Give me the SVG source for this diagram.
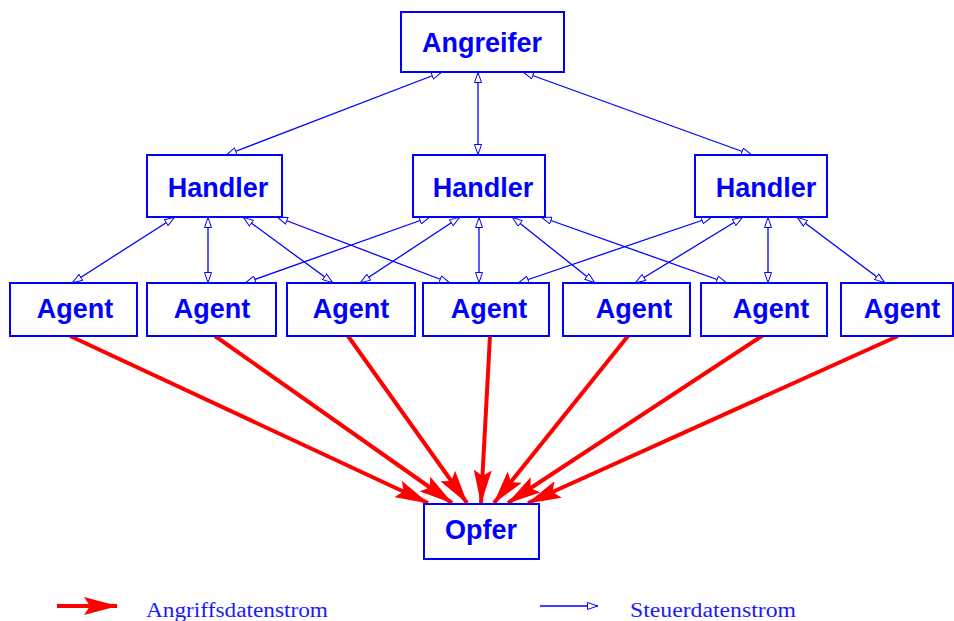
<svg xmlns="http://www.w3.org/2000/svg" width="954" height="621" viewBox="0 0 954 621">
  <style>
    .box { fill: #ffffff; stroke: #0000ff; stroke-width: 2; }
    .lbl { font-family: "Liberation Sans", Arial, sans-serif; font-weight: bold; font-size: 27px; fill: #0000ff; text-anchor: middle; }
    .ctl { stroke: #0000ff; stroke-width: 1.3; fill: none; marker-start: url(#ctlHead); marker-end: url(#ctlHead); }
    .atk { stroke: #ff0000; stroke-width: 4; fill: none; marker-end: url(#atkHead); }
    .leg { font-family: "Liberation Serif", "Times New Roman", serif; font-size: 20px; fill: #1a1aff; }
  </style>
  <defs>
    <marker id="ctlHead" viewBox="0 0 11 8" refX="11" refY="4" markerWidth="11" markerHeight="8" markerUnits="userSpaceOnUse" orient="auto-start-reverse">
      <path d="M0.5,0.5 L10.5,4 L0.5,7.5 Z" fill="#ffffff" stroke="#0000ff" stroke-width="1"/>
    </marker>
    <marker id="atkHead" viewBox="0 0 34 18" refX="33" refY="9" markerWidth="34" markerHeight="18" markerUnits="userSpaceOnUse" orient="auto">
      <path d="M0,0 L34,9 L0,18 L6,9 Z" fill="#ff0000"/>
    </marker>
  </defs>
  <rect width="954" height="621" fill="#ffffff"/>

  <!-- control flow (thin blue, both directions) -->
  <g id="control-links">
    <line class="ctl" x1="442" y1="72" x2="226" y2="155"/>
    <line class="ctl" x1="478" y1="72" x2="478" y2="155"/>
    <line class="ctl" x1="523" y1="72" x2="752" y2="155"/>

    <line class="ctl" x1="175" y1="217" x2="72" y2="283"/>
    <line class="ctl" x1="208" y1="217" x2="208" y2="283"/>
    <line class="ctl" x1="243" y1="217" x2="333" y2="283"/>
    <line class="ctl" x1="277" y1="217" x2="450" y2="283"/>

    <line class="ctl" x1="430" y1="217" x2="245" y2="283"/>
    <line class="ctl" x1="460" y1="217" x2="360" y2="283"/>
    <line class="ctl" x1="479" y1="217" x2="479" y2="283"/>
    <line class="ctl" x1="512" y1="217" x2="595" y2="283"/>
    <line class="ctl" x1="541" y1="217" x2="727" y2="283"/>

    <line class="ctl" x1="712" y1="217" x2="518" y2="283"/>
    <line class="ctl" x1="743" y1="217" x2="635" y2="283"/>
    <line class="ctl" x1="768" y1="217" x2="768" y2="283"/>
    <line class="ctl" x1="797" y1="217" x2="885" y2="283"/>
  </g>

  <!-- attack flow (thick red) -->
  <g id="attack-links">
    <line class="atk" x1="70" y1="336" x2="428" y2="503"/>
    <line class="atk" x1="215" y1="336" x2="452" y2="503"/>
    <line class="atk" x1="348" y1="336" x2="467" y2="503"/>
    <line class="atk" x1="490" y1="336" x2="481" y2="503"/>
    <line class="atk" x1="628" y1="336" x2="494" y2="503"/>
    <line class="atk" x1="765" y1="334" x2="508" y2="503"/>
    <line class="atk" x1="898" y1="336" x2="528" y2="503"/>
  </g>

  <g id="angreifer">
    <rect class="box" x="401" y="12" width="163" height="60"/>
    <text class="lbl" x="482" y="52">Angreifer</text>
  </g>

  <g id="handler-1">
    <rect class="box" x="147" y="155" width="135" height="62"/>
    <text class="lbl" x="218" y="197">Handler</text>
  </g>
  <g id="handler-2">
    <rect class="box" x="413" y="155" width="132" height="62"/>
    <text class="lbl" x="483" y="197">Handler</text>
  </g>
  <g id="handler-3">
    <rect class="box" x="695" y="155" width="132" height="62"/>
    <text class="lbl" x="766" y="197">Handler</text>
  </g>

  <g id="agent-1">
    <rect class="box" x="10" y="283" width="127" height="53"/>
    <text class="lbl" x="75" y="318">Agent</text>
  </g>
  <g id="agent-2">
    <rect class="box" x="147" y="283" width="129" height="53"/>
    <text class="lbl" x="212" y="318">Agent</text>
  </g>
  <g id="agent-3">
    <rect class="box" x="287" y="283" width="128" height="53"/>
    <text class="lbl" x="351" y="318">Agent</text>
  </g>
  <g id="agent-4">
    <rect class="box" x="423" y="283" width="126" height="53"/>
    <text class="lbl" x="489" y="318">Agent</text>
  </g>
  <g id="agent-5">
    <rect class="box" x="563" y="283" width="127" height="53"/>
    <text class="lbl" x="634" y="318">Agent</text>
  </g>
  <g id="agent-6">
    <rect class="box" x="701" y="283" width="126" height="53"/>
    <text class="lbl" x="771" y="318">Agent</text>
  </g>
  <g id="agent-7">
    <rect class="box" x="841" y="283" width="112" height="53"/>
    <text class="lbl" x="902" y="318">Agent</text>
  </g>

  <g id="opfer">
    <rect class="box" x="424" y="504" width="115" height="55"/>
    <text class="lbl" x="481" y="539">Opfer</text>
  </g>

  <!-- legend -->
  <g id="legend">
    <line class="atk" x1="57" y1="606" x2="117" y2="606"/>
    <text class="leg" x="146" y="617" textLength="182" lengthAdjust="spacingAndGlyphs">Angriffsdatenstrom</text>
    <line x1="540" y1="606" x2="598" y2="606" stroke="#0000ff" stroke-width="1.3" marker-end="url(#ctlHead)"/>
    <text class="leg" x="630" y="617" textLength="166" lengthAdjust="spacingAndGlyphs">Steuerdatenstrom</text>
  </g>
</svg>
